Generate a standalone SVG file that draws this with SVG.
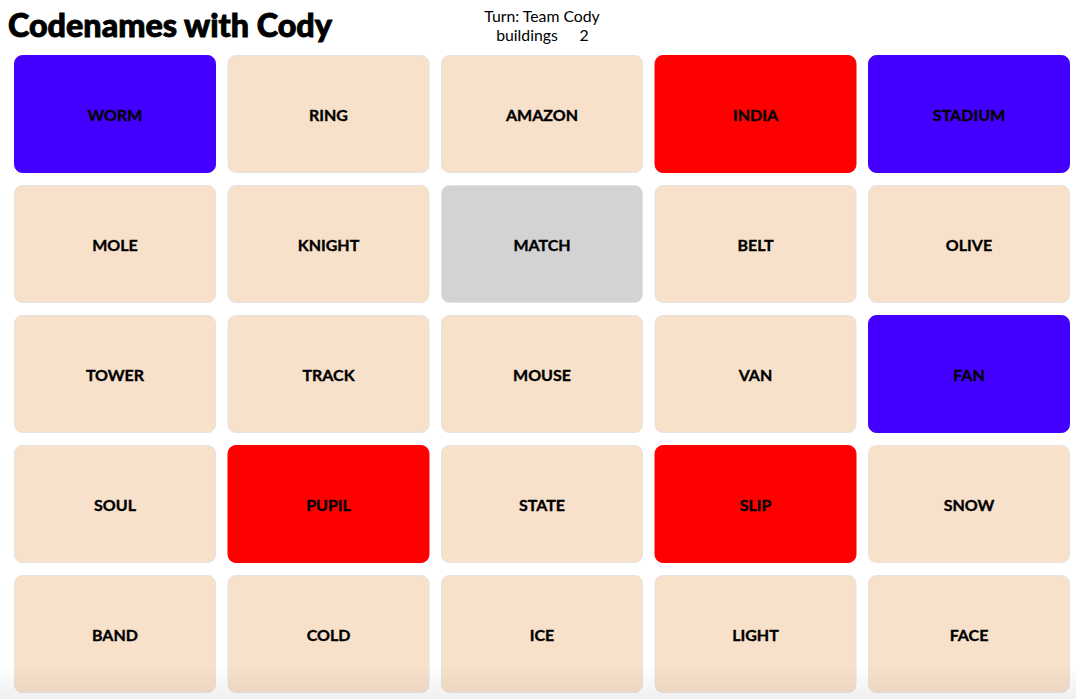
<svg xmlns="http://www.w3.org/2000/svg" width="1076" height="699" viewBox="0 0 1076 699">
<style>
.card{stroke:#e6e2de;stroke-width:1}
.n{fill:#F8E1CB}
.b{fill:#4400FF;stroke:#4400FF}
.r{fill:#FF0000;stroke:#FF0000}
.g{fill:#D3D3D3}
.t{font-family:Lato,"Liberation Sans",sans-serif;font-weight:700;font-size:16px;fill:#000;stroke:#000;stroke-width:0.35;text-anchor:middle}
.h{font-family:Lato,"Liberation Sans",sans-serif;font-size:15.8px;fill:#000;text-anchor:middle}
</style>
<defs>
<linearGradient id="fade" x1="0" y1="0" x2="0" y2="1">
<stop offset="0" stop-color="#000" stop-opacity="0"/>
<stop offset="1" stop-color="#000" stop-opacity="0.06"/>
</linearGradient>
</defs>
<rect width="1076" height="699" fill="#fff"/>
<text x="8" y="37" font-family="Lato,'Liberation Sans',sans-serif" font-weight="900" font-size="32.3" fill="#000" stroke="#000" stroke-width="0.9">Codenames with Cody</text>
<text class="h" x="542" y="22">Turn: Team Cody</text>
<text class="h" x="527" y="41">buildings</text>
<text class="h" x="584" y="41">2</text>
<g id="worm"><rect class="card b" x="14.5" y="55.5" width="201" height="117" rx="8"/><text class="t" x="115" y="121">WORM</text></g>
<g id="ring"><rect class="card n" x="228" y="55.5" width="201" height="117" rx="8"/><text class="t" x="328.5" y="121">RING</text></g>
<g id="amazon"><rect class="card n" x="441.5" y="55.5" width="201" height="117" rx="8"/><text class="t" x="542" y="121">AMAZON</text></g>
<g id="india"><rect class="card r" x="655" y="55.5" width="201" height="117" rx="8"/><text class="t" x="755.5" y="121">INDIA</text></g>
<g id="stadium"><rect class="card b" x="868.5" y="55.5" width="201" height="117" rx="8"/><text class="t" x="969" y="121">STADIUM</text></g>
<g id="mole"><rect class="card n" x="14.5" y="185.5" width="201" height="117" rx="8"/><text class="t" x="115" y="251">MOLE</text></g>
<g id="knight"><rect class="card n" x="228" y="185.5" width="201" height="117" rx="8"/><text class="t" x="328.5" y="251">KNIGHT</text></g>
<g id="match"><rect class="card g" x="441.5" y="185.5" width="201" height="117" rx="8"/><text class="t" x="542" y="251">MATCH</text></g>
<g id="belt"><rect class="card n" x="655" y="185.5" width="201" height="117" rx="8"/><text class="t" x="755.5" y="251">BELT</text></g>
<g id="olive"><rect class="card n" x="868.5" y="185.5" width="201" height="117" rx="8"/><text class="t" x="969" y="251">OLIVE</text></g>
<g id="tower"><rect class="card n" x="14.5" y="315.5" width="201" height="117" rx="8"/><text class="t" x="115" y="381">TOWER</text></g>
<g id="track"><rect class="card n" x="228" y="315.5" width="201" height="117" rx="8"/><text class="t" x="328.5" y="381">TRACK</text></g>
<g id="mouse"><rect class="card n" x="441.5" y="315.5" width="201" height="117" rx="8"/><text class="t" x="542" y="381">MOUSE</text></g>
<g id="van"><rect class="card n" x="655" y="315.5" width="201" height="117" rx="8"/><text class="t" x="755.5" y="381">VAN</text></g>
<g id="fan"><rect class="card b" x="868.5" y="315.5" width="201" height="117" rx="8"/><text class="t" x="969" y="381">FAN</text></g>
<g id="soul"><rect class="card n" x="14.5" y="445.5" width="201" height="117" rx="8"/><text class="t" x="115" y="511">SOUL</text></g>
<g id="pupil"><rect class="card r" x="228" y="445.5" width="201" height="117" rx="8"/><text class="t" x="328.5" y="511">PUPIL</text></g>
<g id="state"><rect class="card n" x="441.5" y="445.5" width="201" height="117" rx="8"/><text class="t" x="542" y="511">STATE</text></g>
<g id="slip"><rect class="card r" x="655" y="445.5" width="201" height="117" rx="8"/><text class="t" x="755.5" y="511">SLIP</text></g>
<g id="snow"><rect class="card n" x="868.5" y="445.5" width="201" height="117" rx="8"/><text class="t" x="969" y="511">SNOW</text></g>
<g id="band"><rect class="card n" x="14.5" y="575.5" width="201" height="117" rx="8"/><text class="t" x="115" y="641">BAND</text></g>
<g id="cold"><rect class="card n" x="228" y="575.5" width="201" height="117" rx="8"/><text class="t" x="328.5" y="641">COLD</text></g>
<g id="ice"><rect class="card n" x="441.5" y="575.5" width="201" height="117" rx="8"/><text class="t" x="542" y="641">ICE</text></g>
<g id="light"><rect class="card n" x="655" y="575.5" width="201" height="117" rx="8"/><text class="t" x="755.5" y="641">LIGHT</text></g>
<g id="face"><rect class="card n" x="868.5" y="575.5" width="201" height="117" rx="8"/><text class="t" x="969" y="641">FACE</text></g>
<rect x="0" y="665" width="1076" height="34" fill="url(#fade)"/>
<g id="connectors"/>
</svg>
